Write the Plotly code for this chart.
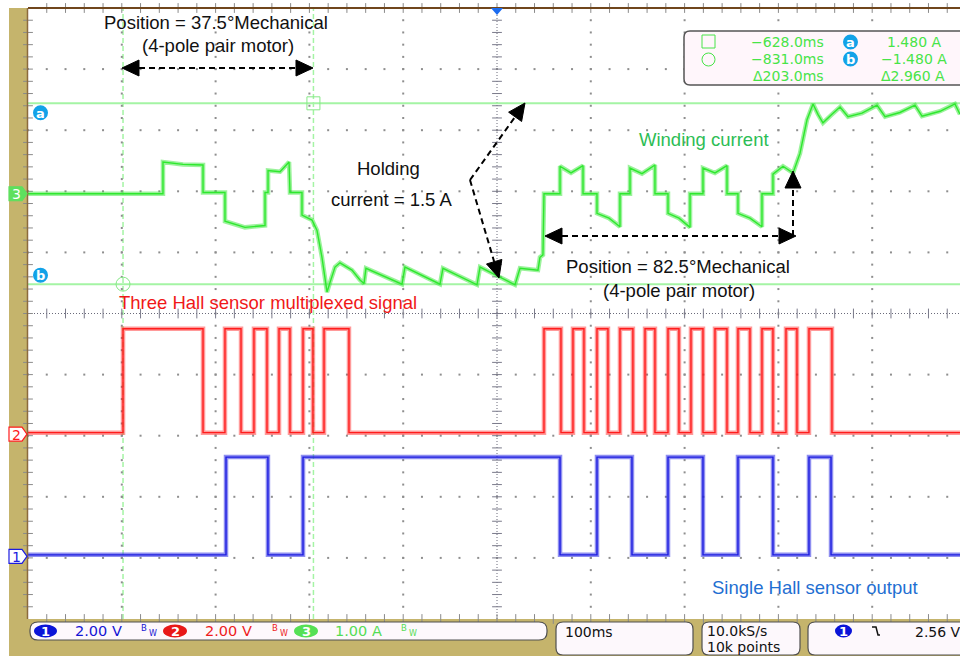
import math
import plotly.graph_objects as go

# ---------------- captured waveforms ----------------
# Channel 3: winding current (A) against time (ms)
WINDING_T_MS = [-932.3, -788.4, -788.4, -767.0, -745.7, -745.7, -722.3, -722.3, -701.0, -679.6,
                -679.6, -676.4, -676.4, -663.6, -654.0, -653.0, -640.2, -640.2, -629.5, -624.2,
                -618.9, -615.7, -613.5, -610.3, -605.0, -599.7, -592.2, -586.9, -578.4, -574.1,
                -572.0, -533.6, -530.4, -493.1, -489.9, -453.6, -450.4, -413.1, -407.8, -388.6,
                -386.5, -383.3, -382.2, -365.1, -365.1, -353.4, -340.6, -340.6, -325.7, -325.7,
                -312.9, -301.2, -301.2, -290.5, -290.5, -277.7, -263.9, -263.9, -250.0, -250.0,
                -238.3, -226.5, -226.5, -212.7, -212.7, -199.9, -187.1, -187.1, -175.4, -175.4,
                -162.6, -149.8, -149.8, -138.1, -138.1, -127.4, -116.7, -109.3, -101.8, -95.4,
                -90.1, -84.8, -75.2, -66.6, -58.1, -43.2, -27.2, -18.6, -2.7, 13.3,
                20.8, 40.0, 55.9, 61.3]
WINDING_A = [0.00, 0.00, 0.52, 0.48, 0.47, 0.02, 0.02, -0.45, -0.55, -0.52,
             0.02, 0.02, 0.38, 0.36, 0.52, 0.02, 0.02, -0.35, -0.43, -0.60,
             -1.04, -1.42, -1.61, -1.45, -1.20, -1.13, -1.20, -1.25, -1.41, -1.47,
             -1.22, -1.48, -1.20, -1.48, -1.22, -1.49, -1.20, -1.49, -1.22, -1.25,
             -1.04, -1.00, 0.00, 0.00, 0.45, 0.34, 0.46, 0.00, 0.00, -0.32,
             -0.40, -0.54, 0.00, 0.00, 0.42, 0.33, 0.47, 0.00, 0.00, -0.32,
             -0.40, -0.55, 0.00, 0.00, 0.42, 0.34, 0.46, 0.00, 0.00, -0.32,
             -0.40, -0.54, 0.00, 0.00, 0.32, 0.45, 0.34, 0.66, 1.21, 1.47,
             1.30, 1.16, 1.30, 1.42, 1.26, 1.32, 1.45, 1.26, 1.33, 1.45,
             1.27, 1.35, 1.47, 1.30]

# Channel 2: three Hall sensors multiplexed, edge times (ms); trace starts low
HALL_MUX_EDGES_MS = [-831.0, -745.7, -722.3, -705.2, -691.4, -677.5, -664.7, -653.0, -639.1, -628.5,
                     -616.7, -590.1, -382.2, -364.1, -351.3, -339.6, -325.7, -314.0, -301.2, -287.4,
                     -274.5, -263.9, -250.0, -238.3, -225.5, -212.7, -199.9, -187.1, -175.4, -162.6,
                     -149.8, -138.1, -124.2, -112.5, -99.7, -75.2]
HALL_MUX_HIGH_V = 3.4

# Channel 1: single Hall sensor output, edge times (ms); trace starts low
HALL_SINGLE_EDGES_MS = [-721.2, -676.5, -639.1, -365.1, -325.7, -288.4, -250.0, -212.7,
                        -175.4, -138.1, -99.7, -76.2]
HALL_SINGLE_HIGH_V = 3.2

# Cursor readout
CURSOR_T_MS = [-628.0, -831.0]
CURSOR_I_A = [1.480, -1.480]

# Scope settings
CH_SCALE = {"1": 2.00, "2": 2.00, "3": 1.00}
CH_UNIT = {"1": "V", "2": "V", "3": "A"}
TIMEBASE_MS = 100
SAMPLE_RATE = "10.0kS/s"
RECORD_LEN = "10k points"
TRIG_LEVEL_V = 2.56

# ---------------- screen layout ----------------
W, H = 960, 656
PL, PR, PT, PB = 28, 960, 8, 619
DIV_PX = 93.8
T_LEFT = -932.3
T_RIGHT = T_LEFT + (PR - PL) / DIV_PX * TIMEBASE_MS
CH_OFFSET = {"1": -3.95, "2": -1.95, "3": 1.96}

GREEN = "#2ee82e"
RED = "#ff1c1c"
BLUE = "#1c1ce0"
CURSOR = "#a4f4a4"
BADGE = "#12a2e8"
OLIVE = "#c5b46c"
TEXT_FONT = "Liberation Sans, Arial, sans-serif"
SCOPE_FONT = "DejaVu Sans, sans-serif"


def fx(px):
    return (px - PL) / (PR - PL)


def fy(py):
    return (PB - py) / (PB - PT)


def to_div(ch, v):
    return CH_OFFSET[ch] + v / CH_SCALE[ch]


def square_wave(edges, high):
    xs, ys, level = [T_LEFT], [0.0], 0.0
    for e in edges:
        xs += [e, e]
        ys += [level, high - level]
        level = high - level
    xs.append(T_RIGHT)
    ys.append(level)
    return xs, ys


def pstr(pts):
    return "M " + " L ".join(f"{fx(a):.5f},{fy(b):.5f}" for a, b in pts) + " Z"


def rounded(x0, y0, x1, y1, r):
    P = lambda a, b: f"{fx(a):.5f},{fy(b):.5f}"
    return (f"M {P(x0 + r, y0)} L {P(x1 - r, y0)} Q {P(x1, y0)} {P(x1, y0 + r)} "
            f"L {P(x1, y1 - r)} Q {P(x1, y1)} {P(x1 - r, y1)} L {P(x0 + r, y1)} "
            f"Q {P(x0, y1)} {P(x0, y1 - r)} L {P(x0, y0 + r)} Q {P(x0, y0)} {P(x0 + r, y0)} Z")


fig = go.Figure()

# ---- graticule: dotted divisions ----
gx, gy = [], []
for r in range(1, 10):
    if r == 5:
        continue
    for k in range(0, 50):
        gx.append(T_LEFT + k * TIMEBASE_MS / 5)
        gy.append(-5 + r)
for c in range(1, 10):
    if c == 5:
        continue
    for k in range(1, 50):
        gx.append(T_LEFT + c * TIMEBASE_MS)
        gy.append(-5 + k * 0.2)
fig.add_trace(go.Scatter(x=gx, y=gy, mode="markers", hoverinfo="skip",
                         marker=dict(symbol="square", size=2, color="#8e8e8e", line=dict(width=0))))

t_mid = T_LEFT + 5 * TIMEBASE_MS
# centre cross ticks
fig.add_trace(go.Scatter(x=[t_mid] * 49, y=[-5 + k * 0.2 for k in range(1, 50)], mode="markers",
                         hoverinfo="skip",
                         marker=dict(symbol="line-ew", size=7, line=dict(width=1, color="#7a7a8a"))))
fig.add_trace(go.Scatter(x=[T_LEFT + k * TIMEBASE_MS / 5 for k in range(1, 50)], y=[0] * 49,
                         mode="markers", hoverinfo="skip",
                         marker=dict(symbol="line-ns", size=7, line=dict(width=1, color="#7a7a8a"))))
# border ticks
fig.add_trace(go.Scatter(x=[T_LEFT] * 49, y=[-5 + k * 0.2 for k in range(1, 50)], mode="markers",
                         hoverinfo="skip", cliponaxis=False,
                         marker=dict(symbol="line-ew", size=7, line=dict(width=1, color="#8a8a8a"))))
for yb in (-5, 5):
    fig.add_trace(go.Scatter(x=[T_LEFT + k * TIMEBASE_MS / 5 for k in range(1, 50)], y=[yb] * 49,
                             mode="markers", hoverinfo="skip", cliponaxis=False,
                             marker=dict(symbol="line-ns", size=7, line=dict(width=1, color="#8a8a8a"))))

# ---- waveforms ----
bx, by = square_wave(HALL_SINGLE_EDGES_MS, HALL_SINGLE_HIGH_V)
by = [to_div("1", v) for v in by]
rx, ry = square_wave(HALL_MUX_EDGES_MS, HALL_MUX_HIGH_V)
ry = [to_div("2", v) for v in ry]
wy = [to_div("3", a) for a in WINDING_A]

for xs, ys, col, band in ((bx, by, BLUE, "rgba(30,30,225,0.5)"),
                          (rx, ry, RED, "rgba(255,30,30,0.45)"),
                          (WINDING_T_MS, wy, GREEN, "rgba(55,230,55,0.5)")):
    fig.add_trace(go.Scatter(x=xs, y=ys, mode="lines", hoverinfo="skip",
                             line=dict(color=band, width=4.5)))
    fig.add_trace(go.Scatter(x=xs, y=ys, mode="lines", hoverinfo="skip",
                             line=dict(color=col, width=1.4)))

shapes = []
ann = []

# ---- background framing ----
shapes.append(dict(type="rect", xref="paper", yref="paper", x0=fx(0), x1=fx(W), y0=fy(0), y1=fy(PT),
                   fillcolor="white", line=dict(width=0), layer="below"))
shapes.append(dict(type="rect", xref="paper", yref="paper", x0=fx(0), x1=fx(9), y0=fy(0), y1=fy(H),
                   fillcolor="white", line=dict(width=0), layer="below"))
shapes.append(dict(type="line", xref="paper", yref="paper", x0=fx(PL), x1=fx(W), y0=fy(PT), y1=fy(PT),
                   line=dict(color="#70461c", width=2)))
shapes.append(dict(type="line", xref="paper", yref="paper", x0=fx(PL - 0.5), x1=fx(PL - 0.5),
                   y0=fy(PT), y1=fy(PB), line=dict(color="#8c6a3c", width=1.5)))
# centre dotted lines
shapes.append(dict(type="line", xref="x", yref="paper", x0=t_mid, x1=t_mid, y0=0, y1=1,
                   line=dict(color="#6a6a7a", width=1, dash="1px,2px"), layer="below"))
shapes.append(dict(type="line", xref="paper", yref="y", x0=0, x1=1, y0=0, y1=0,
                   line=dict(color="#6a6a7a", width=1, dash="1px,2px"), layer="below"))
# trigger position marker
shapes.append(dict(type="path", xref="paper", yref="paper",
                   path=pstr([(491, PT), (503, PT), (497, PT + 7)]), fillcolor="#1c6cf0",
                   line=dict(width=0)))

# ---- cursors ----
for t in CURSOR_T_MS:
    shapes.append(dict(type="line", xref="x", yref="paper", x0=t, x1=t, y0=0, y1=1,
                       line=dict(color=CURSOR, width=1.5, dash="5px,3px"), layer="below"))
for a in CURSOR_I_A:
    yv = to_div("3", a)
    shapes.append(dict(type="line", xref="paper", yref="y", x0=0, x1=1, y0=yv, y1=yv,
                       line=dict(color=CURSOR, width=2), layer="below"))
# cursor end markers (square on a, circle on b)
fig.add_trace(go.Scatter(x=[CURSOR_T_MS[0]], y=[to_div("3", CURSOR_I_A[0])], mode="markers",
                         hoverinfo="skip",
                         marker=dict(symbol="square-open", size=13, color="#86e886", line=dict(width=1))))
fig.add_trace(go.Scatter(x=[CURSOR_T_MS[1]], y=[to_div("3", CURSOR_I_A[1])], mode="markers",
                         hoverinfo="skip",
                         marker=dict(symbol="circle-open", size=14, color="#86e886", line=dict(width=1))))


def badge(cx, cy, letter, r=7.5):
    shapes.append(dict(type="circle", xref="paper", yref="paper", x0=fx(cx - r), x1=fx(cx + r),
                       y0=fy(cy + r), y1=fy(cy - r), fillcolor=BADGE, line=dict(width=0)))
    ann.append(dict(x=fx(cx), y=fy(cy + 0.5), xref="paper", yref="paper", text=f"<b>{letter}</b>",
                    showarrow=False, xanchor="center", yanchor="middle",
                    font=dict(family=SCOPE_FONT, size=13, color="white")))


def yp(ch, v):
    return 313.5 - to_div(ch, v) * (PB - PT) / 10


badge(40.5, yp("3", CURSOR_I_A[0]) + 9.5, "a")
badge(40.5, yp("3", CURSOR_I_A[1]) - 9, "b")

# ---- channel ground tags ----
for ch, fill, edge in (("3", "#5ee05e", "#5ee05e"), ("2", "white", RED), ("1", "white", BLUE)):
    cy = yp(ch, 0) + (1.5 if ch != "3" else 0)
    shapes.append(dict(type="path", xref="paper", yref="paper",
                       path=pstr([(9, cy - 7), (22, cy - 7), (27, cy), (22, cy + 7), (9, cy + 7)]),
                       fillcolor=fill, line=dict(color=edge, width=1.2)))
    ann.append(dict(x=fx(16), y=fy(cy + 0.5), xref="paper", yref="paper", text=ch, showarrow=False,
                    xanchor="center", yanchor="middle",
                    font=dict(family=SCOPE_FONT, size=14, color="white" if ch == "3" else edge)))

# ---- dashed callout arrows ----
def head(tip, tail, L=17, hw=8):
    (x1, y1), (x0, y0) = tip, tail
    n = math.hypot(x1 - x0, y1 - y0)
    ux, uy = (x1 - x0) / n, (y1 - y0) / n
    bxp, byp = x1 - ux * L, y1 - uy * L
    shapes.append(dict(type="path", xref="paper", yref="paper",
                       path=pstr([(x1, y1), (bxp - uy * hw, byp + ux * hw), (bxp + uy * hw, byp - ux * hw)]),
                       fillcolor="black", line=dict(color="black", width=1)))
    return bxp, byp


def dashed(p0, p1):
    shapes.append(dict(type="line", xref="paper", yref="paper", x0=fx(p0[0]), y0=fy(p0[1]),
                       x1=fx(p1[0]), y1=fy(p1[1]), line=dict(color="black", width=2, dash="6px,4px")))


def double_arrow(a, b):
    ba = head(a, b)
    bb = head(b, a)
    dashed(ba, bb)


def single_arrow(tail, tip):
    b = head(tip, tail)
    dashed(tail, b)


double_arrow((122, 68), (313, 68))
single_arrow((470, 180), (525, 103))
single_arrow((470, 180), (499, 278))
double_arrow((545, 236), (796, 236))
single_arrow((793, 236), (793, 171))


def label(px, py, text, color="#111111", size=18.5, family=TEXT_FONT, anchor="center"):
    ann.append(dict(x=fx(px), y=fy(py), xref="paper", yref="paper", text=text, showarrow=False,
                    xanchor=anchor, yanchor="middle", font=dict(family=family, size=size, color=color)))


label(216, 22, "Position = 37.5°Mechanical")
label(218, 45, "(4-pole pair motor)")
label(388, 168, "Holding")
label(391, 199, "current = 1.5 A")
label(704, 139, "Winding current", color="#2dbd55")
label(678, 266, "Position = 82.5°Mechanical")
label(679, 290, "(4-pole pair motor)")
label(268, 303, "Three Hall sensor multiplexed signal", color="#f01818")
label(815, 587, "Single Hall sensor output", color="#1f6fd2")

# ---- cursor readout box ----
shapes.append(dict(type="path", xref="paper", yref="paper", path=rounded(684, 31, 985, 85, 6),
                   fillcolor="#fff6fb", line=dict(color="#555555", width=1.5)))
RG = "#48e448"
shapes.append(dict(type="rect", xref="paper", yref="paper", x0=fx(702), x1=fx(715), y0=fy(48),
                   y1=fy(35), line=dict(color=RG, width=1), fillcolor="rgba(0,0,0,0)"))
shapes.append(dict(type="circle", xref="paper", yref="paper", x0=fx(702), x1=fx(715), y0=fy(66),
                   y1=fy(53), line=dict(color=RG, width=1), fillcolor="rgba(0,0,0,0)"))


def fmt(v, unit, nd):
    s = f"{v:.{nd}f}{unit}"
    return s.replace("-", "−")


rows_y = [42, 59, 76]
label(826, rows_y[0], fmt(CURSOR_T_MS[0], "ms", 1), color=RG, size=14, family=SCOPE_FONT, anchor="right")
label(826, rows_y[1], fmt(CURSOR_T_MS[1], "ms", 1), color=RG, size=14, family=SCOPE_FONT, anchor="right")
label(826, rows_y[2], "Δ" + fmt(abs(CURSOR_T_MS[0] - CURSOR_T_MS[1]), "ms", 1), color=RG, size=14,
      family=SCOPE_FONT, anchor="right")
badge(850.5, rows_y[0], "a")
badge(850.5, rows_y[1], "b")
label(914, rows_y[0], fmt(CURSOR_I_A[0], " A", 3), color=RG, size=14, family=SCOPE_FONT)
label(914, rows_y[1], fmt(CURSOR_I_A[1], " A", 3), color=RG, size=14, family=SCOPE_FONT)
label(913, rows_y[2], "Δ" + fmt(abs(CURSOR_I_A[0] - CURSOR_I_A[1]), " A", 3), color=RG, size=14,
      family=SCOPE_FONT)

# ---- status bar ----
BOX = "#fdf8fc"
shapes.append(dict(type="path", xref="paper", yref="paper", path=rounded(30, 622, 547, 640, 8),
                   fillcolor=BOX, line=dict(color="#505050", width=1.2)))
for x0, x1 in ((556, 693), (702, 800), (808, 990)):
    shapes.append(dict(type="path", xref="paper", yref="paper", path=rounded(x0, 622, x1, 655, 7),
                       fillcolor=BOX, line=dict(color="#505050", width=1.2)))


def pill(cx0, cx1, cy, fill, txt):
    shapes.append(dict(type="circle", xref="paper", yref="paper", x0=fx(cx0), x1=fx(cx1),
                       y0=fy(cy + 6.5), y1=fy(cy - 6.5), fillcolor=fill, line=dict(width=0)))
    ann.append(dict(x=fx((cx0 + cx1) / 2), y=fy(cy + 0.5), xref="paper", yref="paper", text=f"<b>{txt}</b>",
                    showarrow=False, xanchor="center", yanchor="middle",
                    font=dict(family=SCOPE_FONT, size=13, color="white")))


SB_Y = 631
for ch, p0, p1, tx0, bw, col, pcol in (("1", 34, 57, 73, 148, "#1414d4", "#0a14d8"),
                                       ("2", 163, 187, 203, 279, "#ee1c1c", "#e81818"),
                                       ("3", 294, 318, 333, 408, "#55dd55", "#55e055")):
    pill(p0, p1, SB_Y, pcol, ch)
    label(tx0, SB_Y, f"{CH_SCALE[ch]:.2f} {CH_UNIT[ch]}", color=col, size=14.5, family=SCOPE_FONT,
          anchor="left")
    # bandwidth-limit glyph: small B with a lowered W
    label(bw - 4, SB_Y - 3, "B", color=col, size=8.5, family=SCOPE_FONT)
    label(bw + 5, SB_Y + 2, "W", color=col, size=8, family=SCOPE_FONT)

label(563, 632, f"{TIMEBASE_MS}ms", color="#111111", size=14, family=SCOPE_FONT, anchor="left")
label(705, 631, SAMPLE_RATE, color="#111111", size=14, family=SCOPE_FONT, anchor="left")
label(705, 647, RECORD_LEN, color="#111111", size=14, family=SCOPE_FONT, anchor="left")
pill(835, 852, SB_Y, "#0a14d8", "1")
shapes.append(dict(type="path", xref="paper", yref="paper",
                   path="M " + " L ".join(f"{fx(a):.5f},{fy(b):.5f}" for a, b in
                                          ((872, 627), (876, 627), (878, 635), (880, 635))),
                   line=dict(color="#111111", width=1.5)))
label(913, 632, f"{TRIG_LEVEL_V:.2f} V", color="#111111", size=14, family=SCOPE_FONT, anchor="left")

fig.update_layout(
    width=W, height=H, autosize=False,
    margin=dict(l=PL, r=W - PR, t=PT, b=H - PB, pad=0),
    paper_bgcolor=OLIVE, plot_bgcolor="white",
    showlegend=False,
    xaxis=dict(range=[T_LEFT, T_RIGHT], visible=False, fixedrange=True),
    yaxis=dict(range=[-5, 5], visible=False, fixedrange=True),
    shapes=shapes, annotations=ann,
)

fig.write_html("out.html", config={"displayModeBar": False})
